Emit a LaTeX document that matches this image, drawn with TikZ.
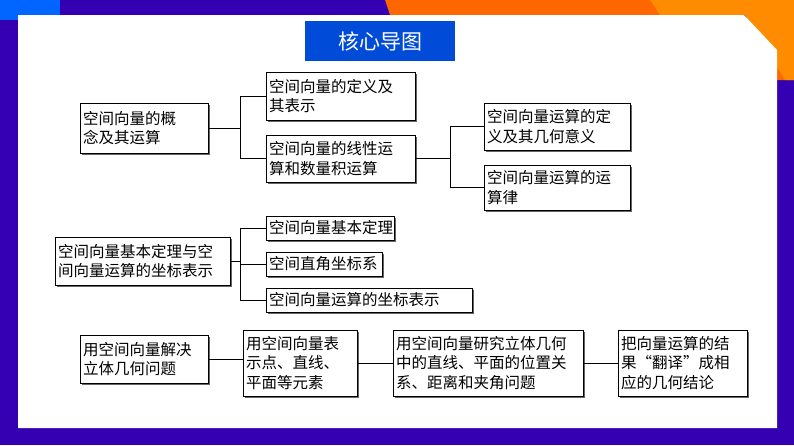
\documentclass[tikz,border=0pt]{standalone}
\usepackage{fontspec}
\setmainfont{Noto Sans CJK SC}
\begin{document}
\begin{tikzpicture}[x=1pt,y=-1pt,
  bx/.style={draw=black,line width=0.8pt,fill=white,align=left,font=\fontsize{15.5}{19.5}\selectfont,inner sep=0pt},
  ln/.style={line width=0.8pt}]
\useasboundingbox (0,0) rectangle (794,445);
\fill[blue!55!violet!90!black] (0,0) rectangle (794,445);
\fill[blue!60!cyan] (0,0) rectangle (60,20);
\fill[orange!80!red] (385,0) -- (794,0) -- (794,80) -- (777,80) -- (777,15) -- (390,15) -- cycle;
\fill[orange!90!yellow] (650,0) -- (794,0) -- (794,80) -- (785,80) -- (745,15) -- (660,15) -- cycle;
\fill[white] (18,15) -- (744,15) -- (777,50) -- (777,428) -- (18,428) -- cycle;
\node[fill=blue!65!cyan!85!black,text=white,minimum width=150,minimum height=40,font=\fontsize{21}{23}\selectfont] (t) at (380,41) {核心导图};
\newcommand{\bxx}[6]{\fill[black!60] (#2+2,#3+2) rectangle (#4+2,#5+2);
  \node[bx,minimum width=#4-#2,minimum height=#5-#3,text width=#4-#2-6] (#1) at ({(#2+#4)/2},{(#3+#5)/2}) {#6};}
\bxx{A}{80}{103}{208}{153}{空间向量的概\\念及其运算}
\bxx{B}{266}{72}{415}{120}{空间向量的定义及\\其表示}
\bxx{C}{266}{135}{415}{182}{空间向量的线性运\\算和数量积运算}
\bxx{D}{484}{103}{630}{150}{空间向量运算的定\\义及其几何意义}
\bxx{E}{484}{165}{630}{210}{空间向量运算的运\\算律}
\bxx{F}{55}{237}{230}{285}{空间向量基本定理与空\\间向量运算的坐标表示}
\bxx{G}{266}{216}{394}{240}{空间向量基本定理}
\bxx{H}{266}{252}{382}{276}{空间直角坐标系}
\bxx{I}{266}{288}{472}{312}{空间向量运算的坐标表示}
\bxx{J}{80}{335}{208}{383}{用空间向量解决\\立体几何问题}
\bxx{K}{243}{330}{357}{396}{用空间向量表\\示点、直线、\\平面等元素}
\bxx{L}{393}{330}{583}{396}{用空间向量研究立体几何\\中的直线、平面的位置关\\系、距离和夹角问题}
\bxx{M}{618}{330}{747}{396}{把向量运算的结\\果“翻译”成相\\应的几何结论}
\coordinate (p1) at (240,0); \coordinate (p2) at (450,0);
\draw[ln] (A.east) -- (A.east -| p1);
\draw[ln] (B.west) -- (B.west -| p1) -- (C.west -| p1) -- (C.west);
\draw[ln] (C.east) -- (C.east -| p2);
\draw[ln] (D.west) -- (D.west -| p2) -- (E.west -| p2) -- (E.west);
\draw[ln] (F.east) -- (F.east -| p1);
\draw[ln] (G.west) -- (G.west -| p1) -- (I.west -| p1) -- (I.west);
\draw[ln] (H.west) -- (H.west -| p1);
\draw[ln] (J.east) -- (J.east -| K.west);
\draw[ln] (K.east) -- (L.west);
\draw[ln] (L.east) -- (M.west);
\end{tikzpicture}
\end{document}
